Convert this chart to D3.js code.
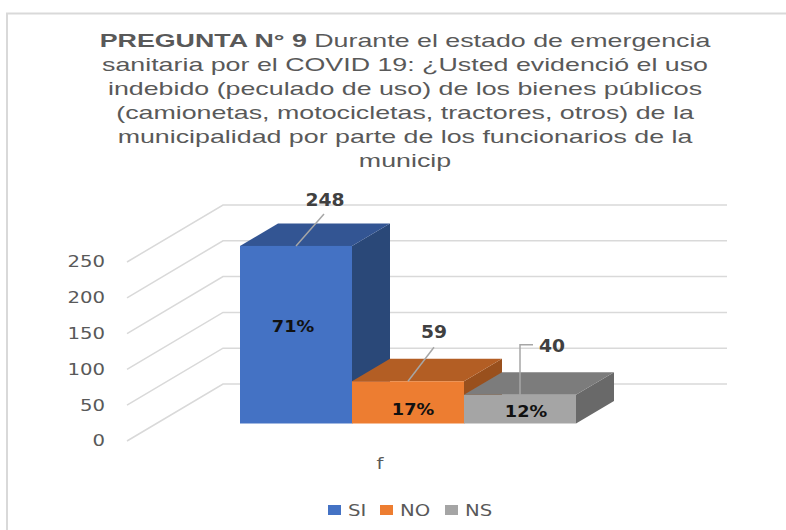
<!DOCTYPE html>
<html>
<head>
<meta charset="utf-8">
<script src="https://d3js.org/d3.v7.min.js"></script>
<style>
  html, body { margin: 0; padding: 0; background: #fff; }
  svg { display: block; }
  .title { font: 19px "Liberation Sans", sans-serif; fill: #595959; }
  .title .b { font-weight: bold; }
  .tick text, .cat, .legend text { font: 15.5px "DejaVu Sans", sans-serif; fill: #595959; }
  .val { font: bold 17px "DejaVu Sans", sans-serif; fill: #404040; text-anchor: middle; }
  .pct { font: bold 15.5px "DejaVu Sans", sans-serif; fill: #111; text-anchor: middle; }
</style>
</head>
<body>
<script>
var categories = ["SI", "NO", "NS"];
var values = [248, 59, 40];
var percents = ["71%", "17%", "12%"];
var yTicks = [0, 50, 100, 150, 200, 250];
var axisCategory = "f";
var titleBold = "PREGUNTA N° 9";
var titleLines = [
  " Durante el estado de emergencia",
  "sanitaria por el COVID 19: ¿Usted evidenció el uso",
  "indebido (peculado de uso) de los bienes públicos",
  "(camionetas, motocicletas, tractores, otros) de la",
  "municipalidad por parte de los funcionarios de la",
  "municip"
];

var frontColors = ["#4472c4", "#ed7d31", "#a5a5a5"];
var topColors = ["#335593", "#b35e24", "#7c7c7c"];
var sideColors = ["#2a4878", "#99501d", "#696969"];

var width = 786, height = 530;
var depth = { x: 38, y: -22.5 };     // bar depth
var wall = { x: 96, y: -57 };        // floor depth, front edge to back wall

var svg = d3.select("body").append("svg")
    .attr("width", width)
    .attr("height", height);

// the reference text is stretched sideways, so stretch ours about its anchor
function stretched(px, py, k) {
  return "translate(" + px + "," + py + ") scale(" + k + ",1)";
}

// chart border (left and top only, the picture is cropped on the others)
svg.append("path")
    .attr("d", "M7,530V13.5H786")
    .attr("fill", "none")
    .attr("stroke", "#d9d9d9")
    .attr("stroke-width", 2);

// title
var title = svg.append("text")
    .attr("class", "title")
    .attr("text-anchor", "middle")
    .attr("transform", stretched(405, 0, 1.41));
titleLines.forEach(function(line, i) {
  var t = title.append("tspan").attr("x", 0).attr("y", 47 + i * 24);
  if (i == 0) {
    t.append("tspan").attr("class", "b").text(titleBold);
  }
  t.append("tspan").text(line);
});

// scales, on the front plane
var x = d3.scaleBand().domain(categories).range([240, 576]);
var yFront = d3.scaleLinear().domain([0, 250]).range([441, 262]);
var yBar = d3.scaleLinear().domain([0, 250]).range([423.5, 244.5]);

// gridlines: floor edge then back wall
svg.append("g").selectAll("path")
    .data(yTicks)
  .enter().append("path")
    .attr("d", function(d) {
      var y0 = yFront(d);
      return "M127," + y0 + "L" + (127 + wall.x) + "," + (y0 + wall.y) + "H727";
    })
    .attr("fill", "none")
    .attr("stroke", "#d9d9d9")
    .attr("stroke-width", 1.5);

// y axis
var axis = svg.append("g")
    .attr("transform", stretched(105, 0, 1.27))
    .call(d3.axisLeft(yFront).tickValues(yTicks).tickSize(0).tickPadding(0));
axis.select(".domain").remove();

// bars, left to right so each one covers the side of the previous
var bars = svg.selectAll(".bar")
    .data(categories)
  .enter().append("g")
    .attr("class", "bar");

function pts(list) {
  return list.map(function(p) { return p.join(","); }).join(" ");
}

bars.append("polygon")
    .attr("points", function(d, i) {
      var x1 = x(d) + x.bandwidth(), top = yBar(values[i]), base = yBar(0);
      return pts([[x1, top], [x1 + depth.x, top + depth.y], [x1 + depth.x, base + depth.y], [x1, base]]);
    })
    .attr("fill", function(d, i) { return sideColors[i]; });

bars.append("polygon")
    .attr("points", function(d, i) {
      var x0 = x(d), x1 = x0 + x.bandwidth(), top = yBar(values[i]);
      return pts([[x0, top], [x0 + depth.x, top + depth.y], [x1 + depth.x, top + depth.y], [x1, top]]);
    })
    .attr("fill", function(d, i) { return topColors[i]; });

bars.append("rect")
    .attr("x", function(d) { return x(d); })
    .attr("y", function(d, i) { return yBar(values[i]); })
    .attr("width", x.bandwidth())
    .attr("height", function(d, i) { return yBar(0) - yBar(values[i]); })
    .attr("fill", function(d, i) { return frontColors[i]; });

// percent labels inside the bars
var pctShift = [
  [-3, -92],
  [5, -9],
  [6, -7]
];
bars.append("text")
    .attr("class", "pct")
    .attr("transform", function(d, i) {
      return stretched(x(d) + x.bandwidth() / 2 + pctShift[i][0], yBar(0) + pctShift[i][1], 1.14);
    })
    .text(function(d, i) { return percents[i]; });

// value labels with leader lines
var leader = d3.line();
function anchor(i) { return [x(categories[i]) + x.bandwidth() / 2, yBar(values[i])]; }

var a0 = anchor(0), a1 = anchor(1), a2 = anchor(2);
var leaders = [
  [[a0[0], a0[1]], [a0[0] + 28, a0[1] - 32]],
  [[a1[0], a1[1]], [a1[0] + 26, a1[1] - 34]],
  [[a2[0], a2[1]], [a2[0], a2[1] - 50], [a2[0] + 13, a2[1] - 50]]
];
svg.append("g").selectAll("path")
    .data(leaders)
  .enter().append("path")
    .attr("d", leader)
    .attr("fill", "none")
    .attr("stroke", "#a6a6a6")
    .attr("stroke-width", 1.5);

var valuePos = [
  [a0[0] + 29, a0[1] - 40],
  [a1[0] + 26, a1[1] - 43],
  [a2[0] + 32, a2[1] - 43]
];
svg.append("g").selectAll("text")
    .data(values)
  .enter().append("text")
    .attr("class", "val")
    .attr("transform", function(d, i) { return stretched(valuePos[i][0], valuePos[i][1], 1.1); })
    .text(function(d) { return d; });

// category axis label
svg.append("text")
    .attr("class", "cat")
    .attr("transform", stretched(380, 469, 1.27))
    .attr("text-anchor", "middle")
    .text(axisCategory);

// legend
var legendX = [328, 380, 445];
var legend = svg.append("g").attr("class", "legend").selectAll("g")
    .data(categories)
  .enter().append("g")
    .attr("transform", function(d, i) { return "translate(" + legendX[i] + ",505)"; });
legend.append("rect")
    .attr("width", 13)
    .attr("height", 10)
    .attr("fill", function(d, i) { return frontColors[i]; });
legend.append("text")
    .attr("transform", stretched(20, 11, 1.27))
    .text(function(d) { return d; });
</script>
</body>
</html>
